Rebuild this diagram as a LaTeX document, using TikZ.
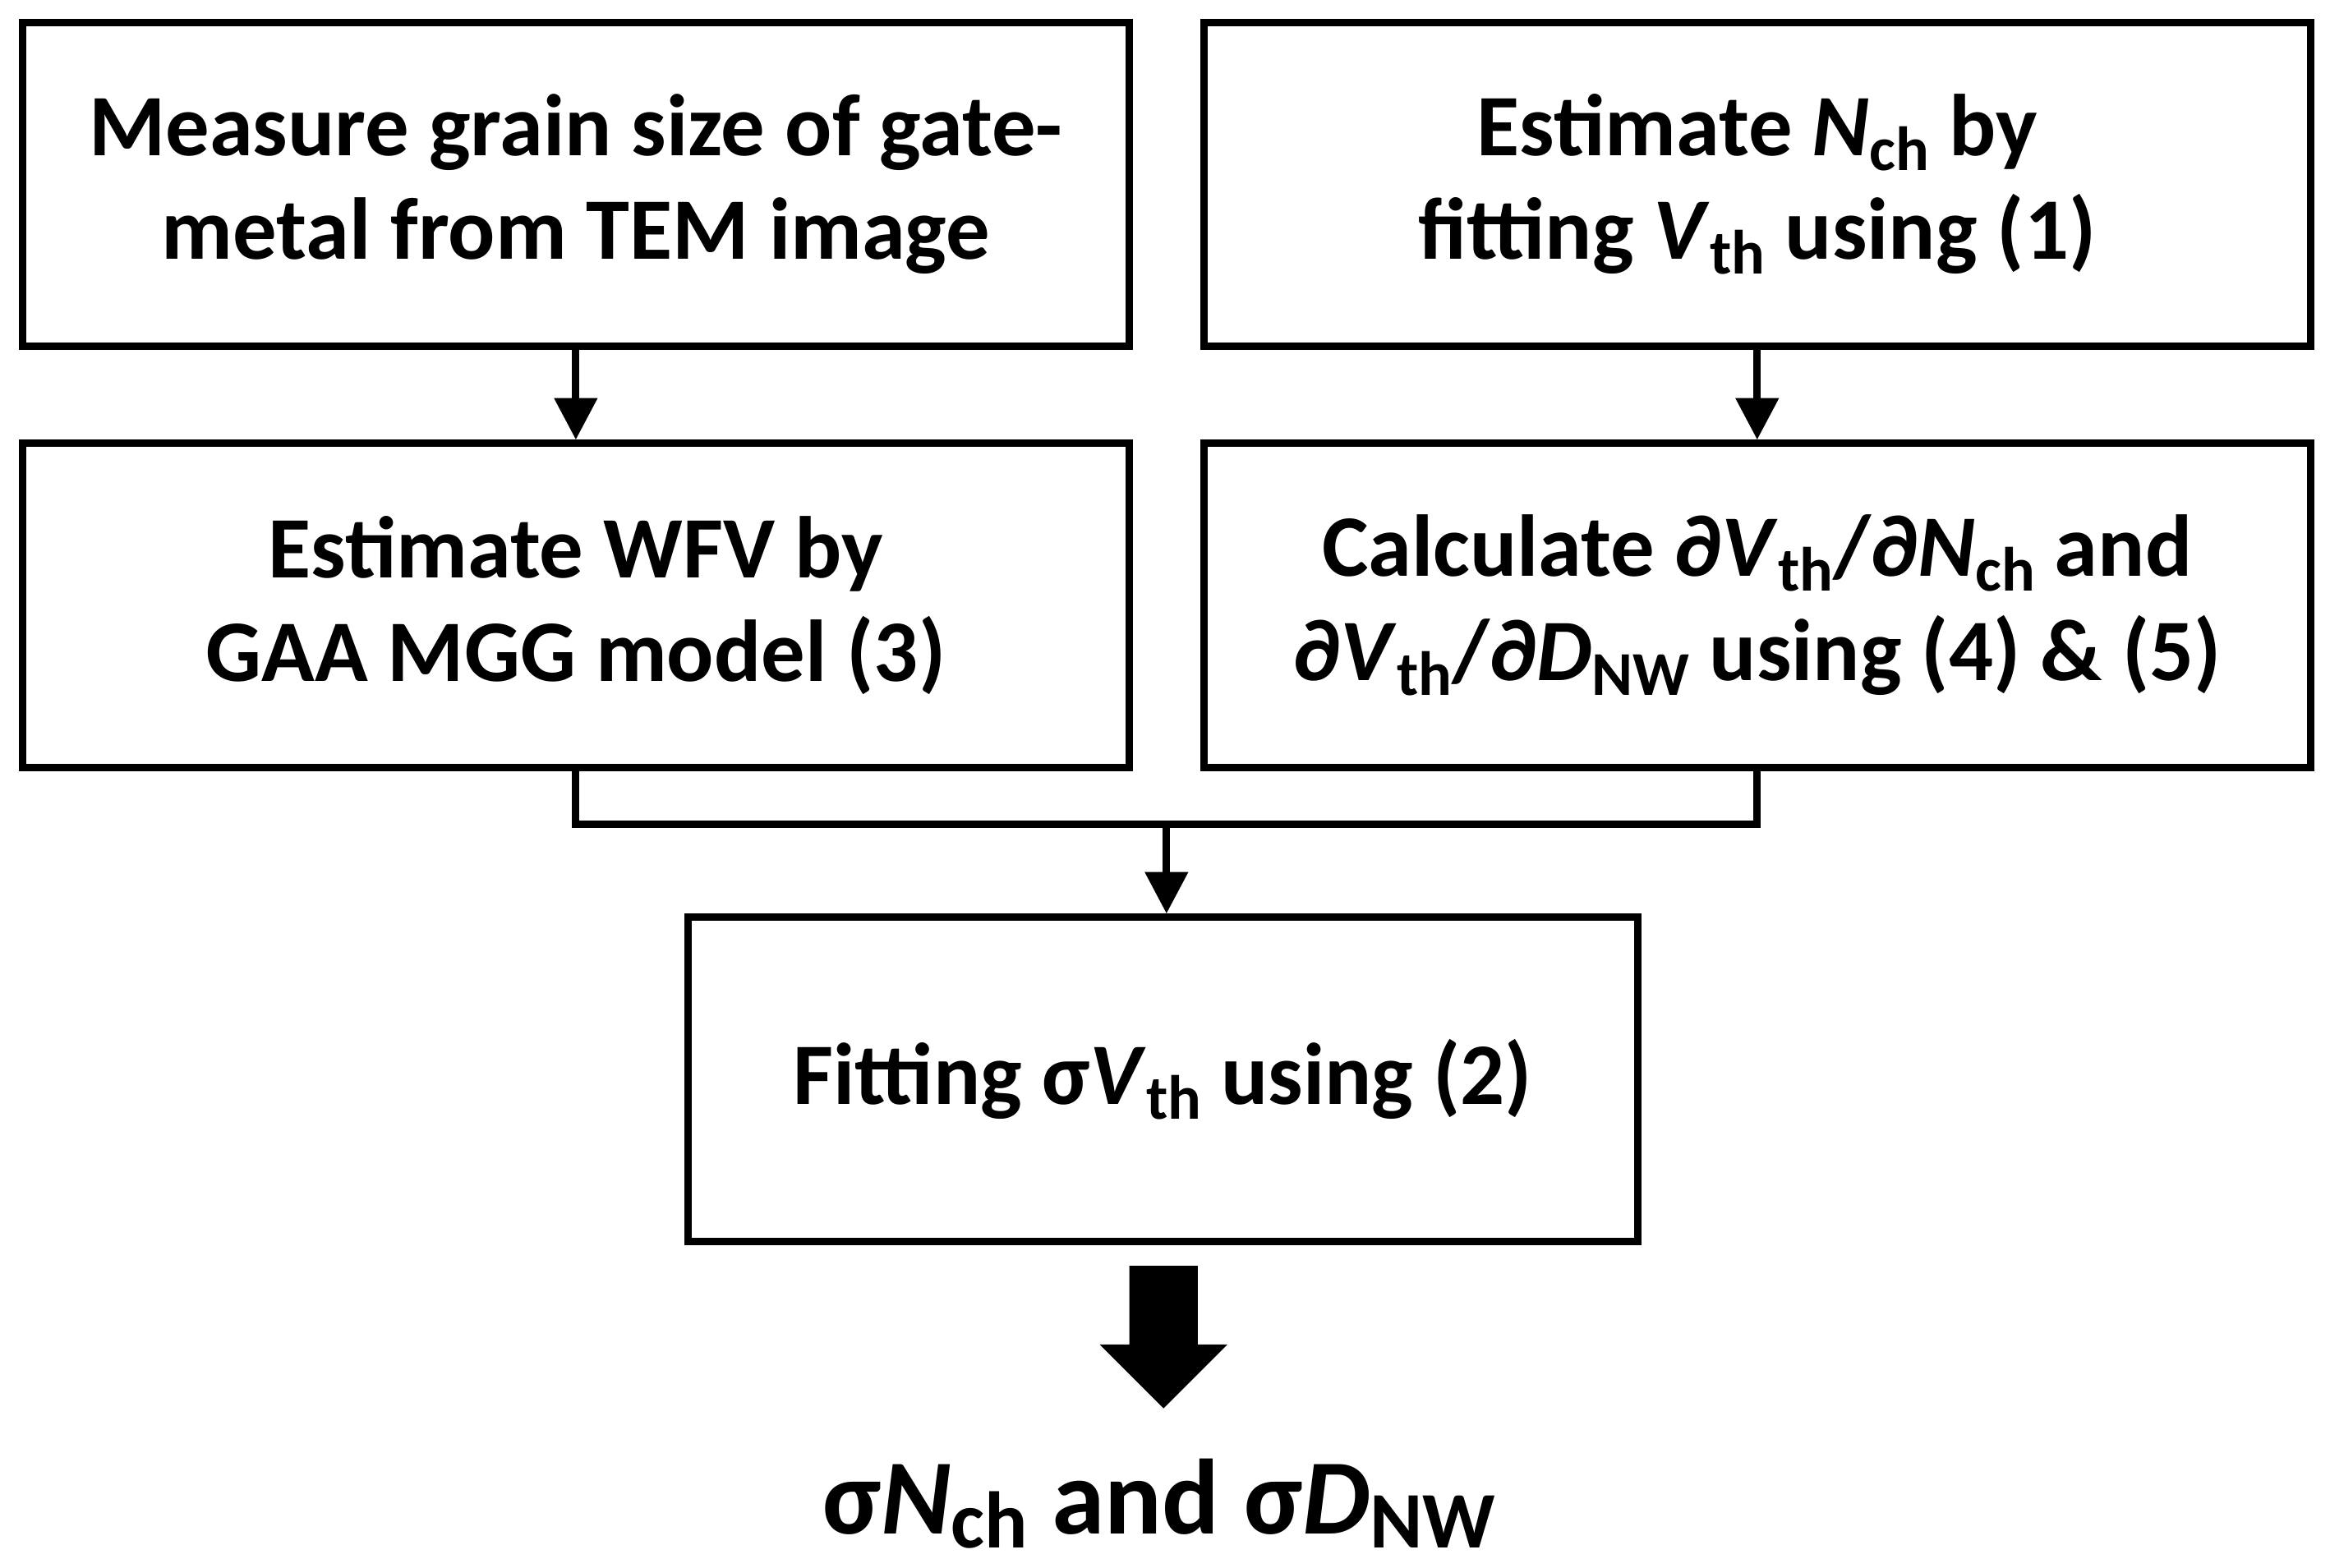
\documentclass[tikz,border=0pt]{standalone}
\usetikzlibrary{arrows.meta}
\usepackage{fontspec}
\setmainfont{Carlito}
\newcommand{\sbs}[1]{\raisebox{-0.35ex}{\fontsize{21}{21}\selectfont #1}}
\begin{document}
\begin{tikzpicture}[x=0.5pt,y=-0.5pt,
  box/.style={draw,line width=2.5pt,minimum width=372.5pt,minimum height=109pt,align=center,inner sep=0pt,
    font=\fontsize{29.5}{35}\selectfont\bfseries},
  ar/.style={line width=2.5pt,-{Triangle[length=14pt,width=14pt]}}]
\useasboundingbox (0,0) rectangle (1568,1055);
\node[box] (b1) at (387.5,124) {Measure grain size of gate-\\metal from TEM image};
\node[box] (b2) at (1182.5,124) {Estimate \textit{N}\sbs{ch} by\\fitting \textit{V}\sbs{th} using (1)};
\node[box] (b3) at (387.5,407.5) {Estimate WFV by\\GAA MGG model (3)};
\node[box] (b4) at (1182.5,407.5) {Calculate ∂\textit{V}\sbs{th}/∂\textit{N}\sbs{ch} and\\∂\textit{V}\sbs{th}/∂\textit{D}\sbs{NW} using (4) \& (5)};
\node[box,minimum width=319.5pt] (b5) at (782.5,726.5) {Fitting σ\textit{V}\sbs{th} using (2)};
\draw[ar] (b1) -- (b3);
\draw[ar] (b2) -- (b4);
\coordinate (m) at (785,555);
\draw[line width=2.5pt] (b3.south) |- (m) -| (b4.south);
\draw[ar] (m) -- (m|-b5.north);
\fill (760,852) -- (806,852) -- (806,905) -- (826,905) -- (783,948) -- (740,905) -- (760,905) -- cycle;
\node[font=\fontsize{36}{40}\selectfont\bfseries] (r) at (780,1012) {σ\textit{N}{\fontsize{27}{27}\selectfont\raisebox{-0.35ex}{ch}} and σ\textit{D}{\fontsize{27}{27}\selectfont\raisebox{-0.35ex}{NW}}};
\end{tikzpicture}
\end{document}
